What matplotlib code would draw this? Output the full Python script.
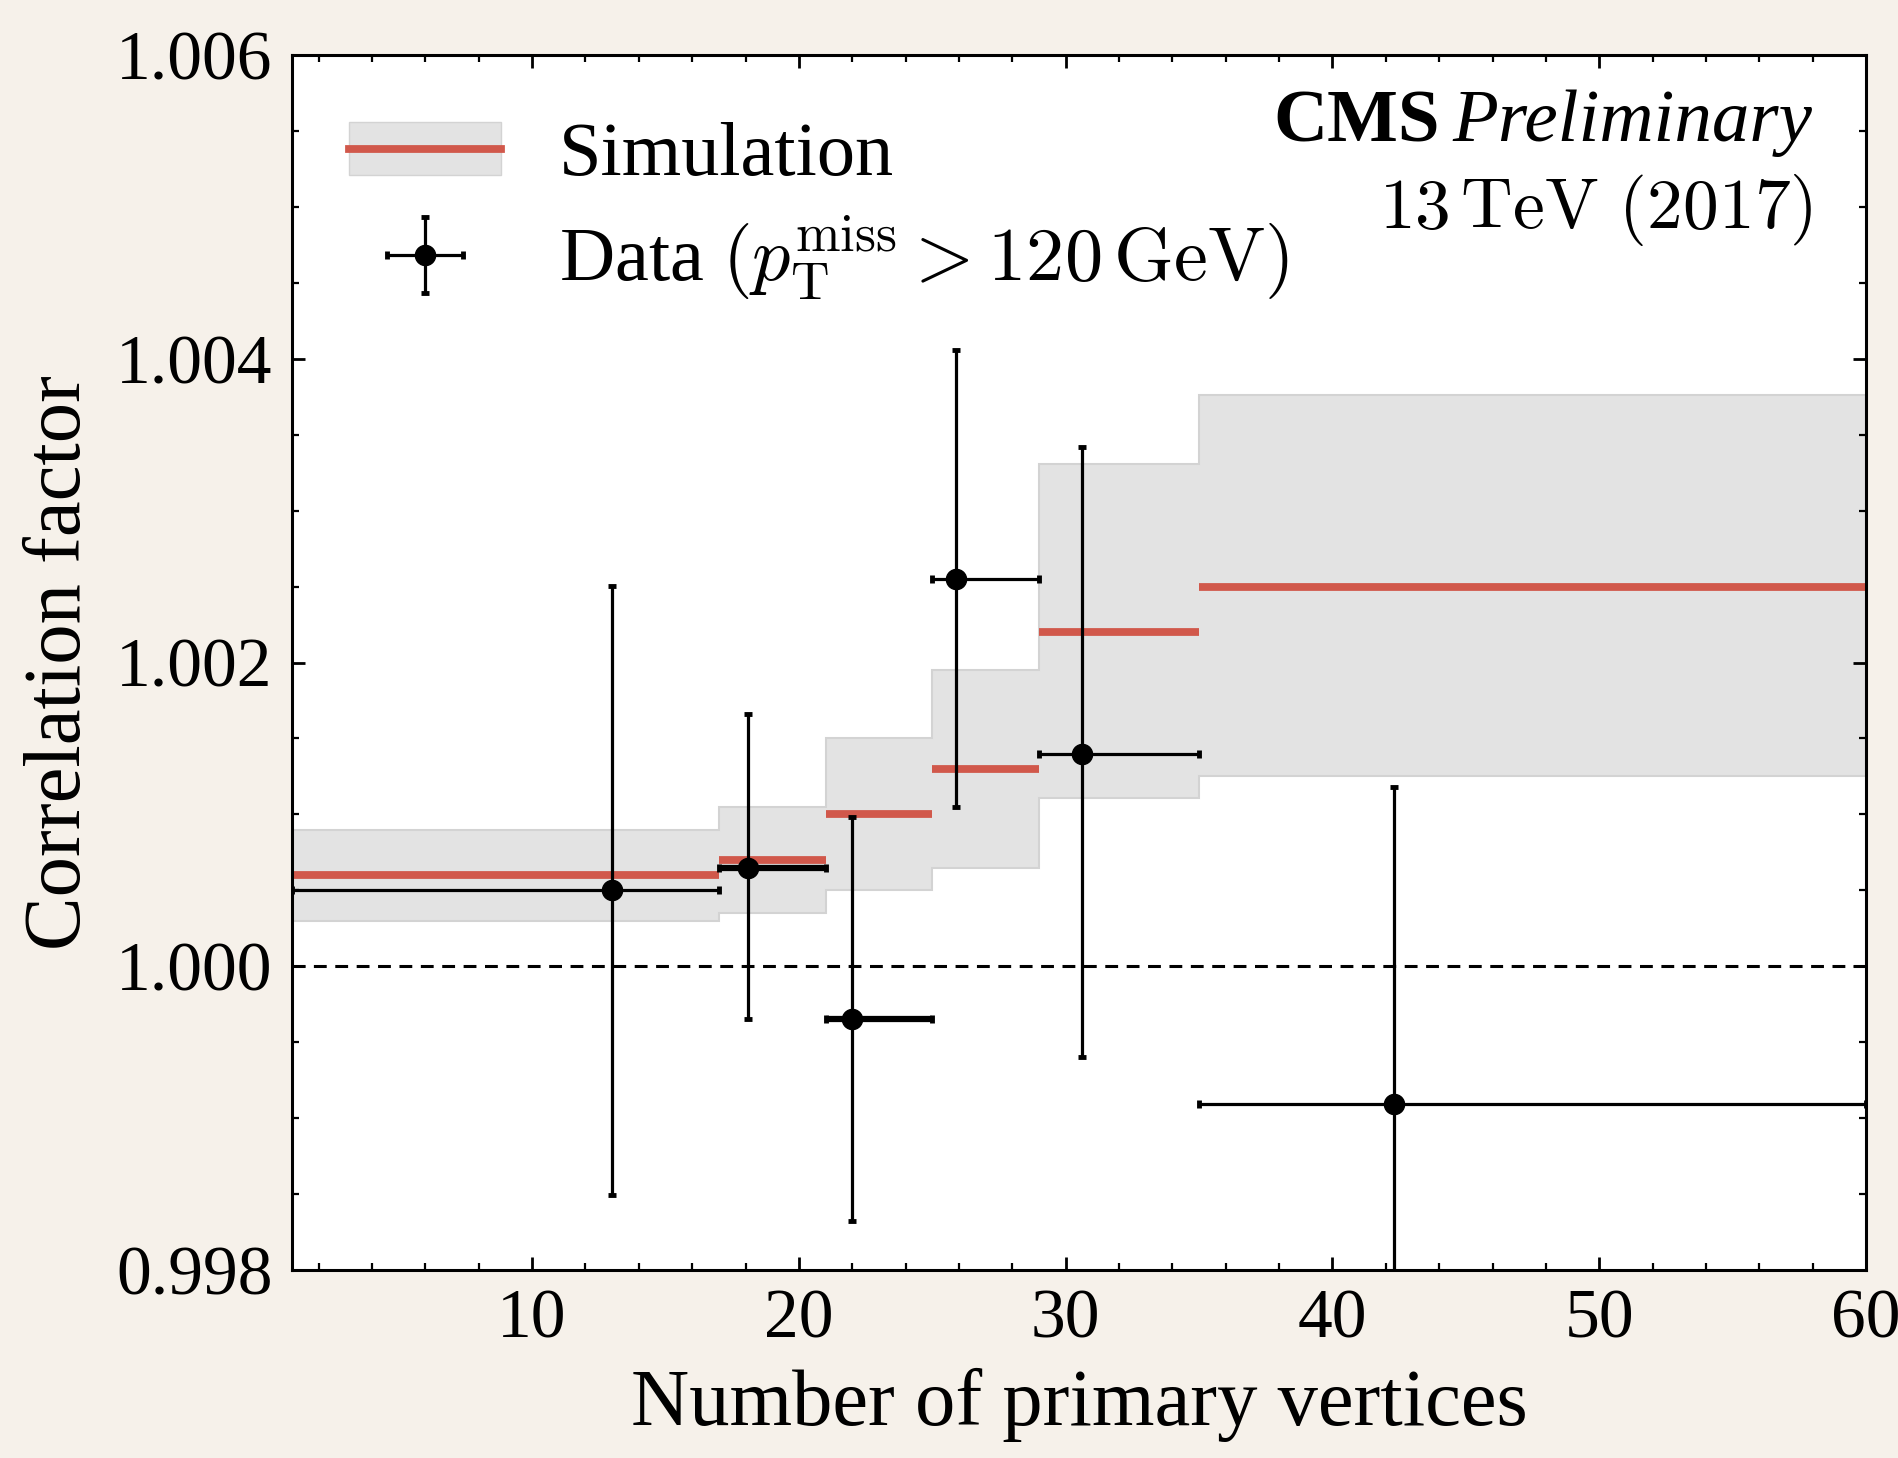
import matplotlib
matplotlib.use("Agg")
import matplotlib.pyplot as plt
from matplotlib.patches import Patch
from matplotlib.lines import Line2D
from matplotlib.ticker import MultipleLocator
import numpy as np

# simulation, binned in number of primary vertices
bin_edges = [1, 17, 21, 25, 29, 35, 60]
sim_value = [1.0006, 1.0007, 1.0010, 1.0013, 1.0022, 1.0025]
sim_low = [1.0003, 1.00035, 1.0005, 1.00065, 1.00111, 1.00125]
sim_high = [1.0009, 1.00105, 1.0015, 1.00195, 1.00331, 1.00376]

# data points
data_x = [13.0, 18.1, 22.0, 25.9, 30.6, 42.3]
data_y = [1.0005, 1.00065, 0.99965, 1.00255, 1.0014, 0.99909]
data_ylow = [0.998496, 0.99965, 0.998325, 1.00105, 0.9994, 0.9970]
data_yhigh = [1.002504, 1.00166, 1.00098, 1.00406, 1.00342, 1.00118]

red = "#d1584b"
band = "#e3e3e3"

plt.rcParams["font.family"] = "Liberation Serif"
plt.rcParams["mathtext.fontset"] = "cm"

fig = plt.figure(figsize=(18.99, 14.58), dpi=100, facecolor="#f6f1ea")
ax = fig.add_axes([292 / 1899, 1 - 1270 / 1458, (1866 - 292) / 1899, (1270 - 55) / 1458])
ax.set_facecolor("white")

edges = np.array(bin_edges)
ax.stairs(sim_high, edges, baseline=sim_low, fill=True, facecolor=band,
          edgecolor="#d3d3d3", linewidth=1.5, zorder=1)
ax.hlines(sim_value, edges[:-1], edges[1:], color=red, linewidth=5.6, zorder=2)

ax.axhline(1.0, color="black", linewidth=2.2, linestyle=(0, (4.2, 2.8)), zorder=1.5)

x = np.array(data_x)
y = np.array(data_y)
xerr = [x - edges[:-1], edges[1:] - x]
yerr = [y - np.array(data_ylow), np.array(data_yhigh) - y]
eb = ax.errorbar(x, y, xerr=xerr, yerr=yerr, fmt="o", color="black",
                 markersize=14.5, elinewidth=2.3, capsize=3, capthick=3.5, zorder=3)
# the two narrow bins have heavier horizontal bars in the original
eb[2][0].set_linewidths([2.3, 4.5, 4.5, 2.3, 2.3, 2.3])

ax.set_xlim(1, 60)
ax.set_ylim(0.998, 1.006)
ax.set_xticks([10, 20, 30, 40, 50, 60])
ax.set_yticks([0.998, 1.000, 1.002, 1.004, 1.006])
ax.set_yticklabels(["0.998", "1.000", "1.002", "1.004", "1.006"])
ax.xaxis.set_minor_locator(MultipleLocator(2))
ax.yaxis.set_minor_locator(MultipleLocator(0.0005))
ax.tick_params(which="both", direction="in", top=True, right=True, labelsize=50, pad=14)
ax.tick_params(which="major", length=9.5, width=2)
ax.tick_params(which="minor", length=5.3, width=1.6)
for s in ax.spines.values():
    s.set_linewidth(2.2)

ax.set_xlabel("Number of primary vertices", fontsize=58, labelpad=11)
ax.set_ylabel("Correlation factor", fontsize=58, labelpad=14)

sim_handle = (Patch(facecolor=band, edgecolor="#d3d3d3"), Line2D([], [], color=red, linewidth=5.6))
leg = ax.legend([sim_handle, eb],
                ["Simulation", r"Data $(p_\mathrm{T}^\mathrm{miss} > 120\,\mathrm{GeV})$"],
                loc="upper left", bbox_to_anchor=(0.036, 0.945), frameon=False,
                fontsize=55, handlelength=2.0, handletextpad=0.75, labelspacing=0.3,
                borderpad=0, borderaxespad=0)

t1 = ax.text(0.966, 0.929, "Preliminary", transform=ax.transAxes, ha="right",
             va="baseline", fontsize=54, style="italic")
fig.canvas.draw()
bb = t1.get_window_extent()
inv = ax.transAxes.inverted()
x0 = inv.transform((bb.x0, bb.y0))[0]
ax.text(x0 - 0.008, 0.929, "CMS", transform=ax.transAxes, ha="right", va="baseline",
        fontsize=54, fontweight="bold")
ax.text(0.966, 0.858, r"$13\,\mathrm{TeV}\ (2017)$", transform=ax.transAxes,
        ha="right", va="baseline", fontsize=51.5)

fig.savefig("out.png", dpi=100, facecolor=fig.get_facecolor())
